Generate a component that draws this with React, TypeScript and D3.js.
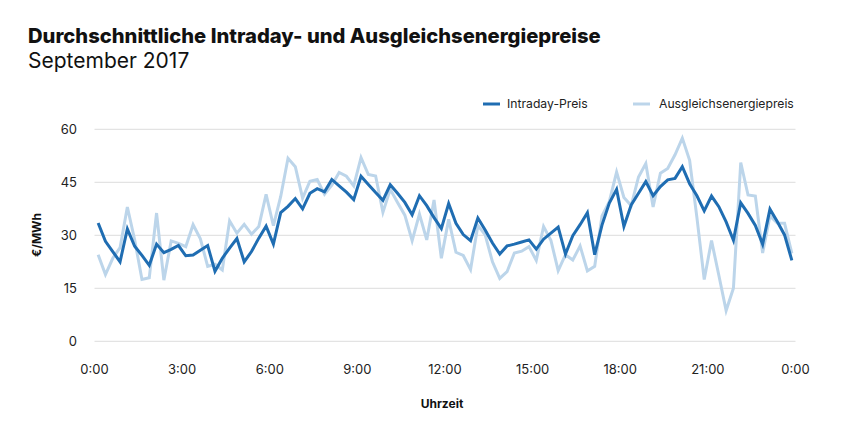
import React from "react";
import * as d3 from "d3";

const title = "Durchschnittliche Intraday- und Ausgleichsenergiepreise";
const subtitle = "September 2017";
const yAxisTitle = "€/MWh";
const xAxisTitle = "Uhrzeit";
const seriesNames = ["Intraday-Preis", "Ausgleichsenergiepreis"];

const yTicks = [0, 15, 30, 45, 60];
const xTickHours = [0, 3, 6, 9, 12, 15, 18, 21, 24];
const xTickLabels = ["0:00", "3:00", "6:00", "9:00", "12:00", "15:00", "18:00", "21:00", "0:00"];

// quarter-hour averages, 96 values
const intraday = [
  33.5, 28.3, 25.4, 22.5, 31.8, 26.9, 24.3, 21.5, 27.5, 25.1, 26.0, 27.1,
  24.2, 24.4, 25.8, 27.1, 19.8, 23.5, 26.4, 29.1, 22.5, 25.4, 29.2, 32.6,
  27.5, 36.4, 38.2, 40.4, 37.5, 41.9, 43.2, 42.3, 45.8, 44.0, 42.2, 40.1,
  46.7, 44.4, 42.1, 39.9, 44.3, 41.9, 39.3, 35.8, 41.2, 38.4, 35.0, 31.9,
  39.0, 33.4, 30.2, 28.5, 34.9, 31.5, 27.8, 24.7, 27.0, 27.5, 28.1, 28.7,
  26.1, 28.9, 30.6, 32.3, 24.7, 29.9, 33.0, 36.4, 24.5, 32.9, 39.1, 43.0,
  32.5, 38.6, 41.9, 45.2, 41.2, 43.8, 45.7, 46.1, 49.4, 44.6, 41.2, 36.9,
  41.1, 38.1, 33.8, 28.6, 39.2, 36.2, 32.8, 27.5, 37.4, 33.9, 30.1, 22.9,
];

const ausgleich = [
  24.5, 18.9, 23.5, 26.5, 38.0, 28.7, 17.5, 18.0, 36.3, 17.3, 28.4, 27.7,
  26.8, 33.0, 29.0, 21.2, 21.8, 20.2, 34.1, 30.6, 33.1, 30.3, 32.5, 41.6,
  32.7, 41.0, 51.8, 49.4, 40.5, 45.3, 45.8, 41.6, 44.2, 47.8, 46.7, 44.0,
  52.0, 47.2, 46.8, 36.5, 43.0, 39.3, 35.7, 28.5, 36.0, 28.7, 40.0, 23.5,
  34.5, 25.2, 24.3, 20.3, 32.8, 30.1, 22.5, 17.8, 19.7, 25.0, 25.5, 26.8,
  22.9, 32.5, 28.6, 20.0, 24.5, 23.0, 27.0, 19.9, 21.2, 35.5, 39.5, 47.9,
  40.7, 38.4, 46.5, 50.3, 38.0, 47.6, 48.9, 52.8, 57.5, 51.2, 35.0, 17.5,
  28.5, 18.7, 8.7, 15.0, 50.6, 41.4, 41.1, 25.0, 35.5, 33.5, 33.4, 24.9,
];

const W = 868;
const H = 436;
const FONT = "Inter, 'Noto Sans', sans-serif";
const DARK = "#1f6db2";
const LIGHT = "#bcd5ea";

export default function App() {
  const x = d3.scaleLinear().domain([0, 24]).range([94.5, 795.5]);
  const y = d3.scaleLinear().domain([0, 60]).range([341.3, 129.3]);
  const tOf = (i: number) => (i + 0.5) * 0.25;

  const line = d3
    .line<number>()
    .x((_, i) => x(tOf(i)))
    .y((d) => y(d))
    .curve(d3.curveLinear);

  return (
    <svg
      width={W}
      height={H}
      style={{ position: "absolute", left: 0, top: 0, display: "block", background: "#fff" }}
      fontFamily={FONT}
    >
      <text x={28} y={43} fontSize={20.2} fontWeight={800} fill="#111">
        {title}
      </text>
      <text x={28} y={68} fontSize={21} fontWeight={400} fill="#111">
        {subtitle}
      </text>

      {/* legend */}
      <g fontSize={12.2} fill="#222">
        <line x1={483} x2={500} y1={104} y2={104} stroke={DARK} strokeWidth={3} />
        <text x={507} y={108}>{seriesNames[0]}</text>
        <line x1={633} x2={650} y1={104} y2={104} stroke={LIGHT} strokeWidth={3} />
        <text x={659} y={108}>{seriesNames[1]}</text>
      </g>

      {/* grid + y ticks */}
      {yTicks.map((t) => (
        <g key={t}>
          <line x1={x(0)} x2={x(24)} y1={y(t)} y2={y(t)} stroke="#dcdcdc" strokeWidth={1} />
          <text x={77} y={y(t) + 4.5} fontSize={13} textAnchor="end" fill="#222">
            {t}
          </text>
        </g>
      ))}

      {/* x ticks */}
      {xTickHours.map((h, i) => (
        <text key={i} x={x(h)} y={374} fontSize={13} textAnchor="middle" fill="#222">
          {xTickLabels[i]}
        </text>
      ))}

      <text
        transform={`translate(41,235) rotate(-90)`}
        fontSize={12}
        fontWeight={700}
        textAnchor="middle"
        fill="#111"
      >
        {yAxisTitle}
      </text>
      <text x={x(12) - 3} y={408} fontSize={12} fontWeight={700} textAnchor="middle" fill="#111">
        {xAxisTitle}
      </text>

      <path d={line(ausgleich) || ""} fill="none" stroke={LIGHT} strokeWidth={3} strokeLinejoin="miter" />
      <path d={line(intraday) || ""} fill="none" stroke={DARK} strokeWidth={3} strokeLinejoin="miter" />
    </svg>
  );
}
